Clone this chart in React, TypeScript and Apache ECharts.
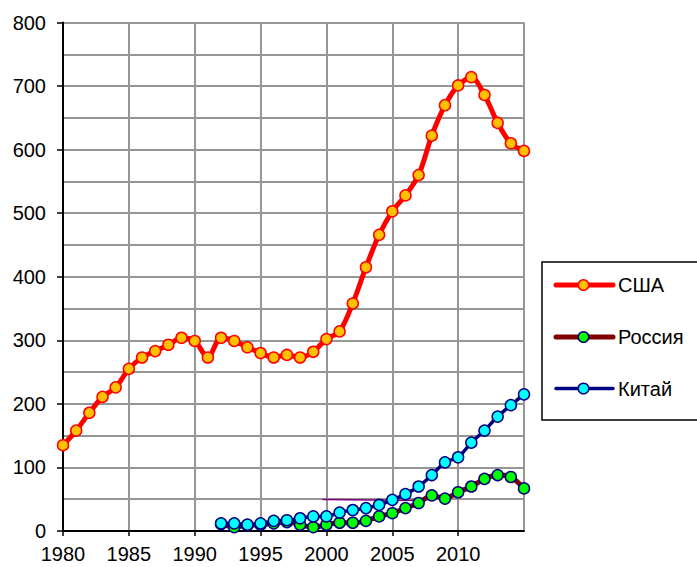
import React, { useEffect, useRef } from "react";
import * as echarts from "echarts";

const years = [
  1980, 1981, 1982, 1983, 1984, 1985, 1986, 1987, 1988, 1989, 1990, 1991,
  1992, 1993, 1994, 1995, 1996, 1997, 1998, 1999, 2000, 2001, 2002, 2003,
  2004, 2005, 2006, 2007, 2008, 2009, 2010, 2011, 2012, 2013, 2014, 2015,
];

const usa = [
  135, 158, 186, 211, 226, 255, 273, 283, 293, 304, 299, 273,
  304, 299, 289, 280, 273, 277, 273, 282, 302, 314, 358, 415,
  466, 503, 528, 560, 622, 670, 701, 714, 686, 642, 610, 598,
];

const chinaYears = [
  1992, 1993, 1994, 1995, 1996, 1997, 1998, 1999, 2000, 2001, 2002, 2003,
  2004, 2005, 2006, 2007, 2008, 2009, 2010, 2011, 2012, 2013, 2014, 2015,
];
const china = [
  12, 12, 10, 12, 16, 17, 20, 23, 23, 29, 33, 36,
  41, 49, 58, 70, 88, 108, 116, 139, 158, 180, 198, 215,
];
const russia = [
  11, 6, 9, 10, 12, 14, 10, 6, 10, 13, 13, 16,
  23, 28, 36, 44, 56, 51, 61, 70, 82, 88, 85, 67,
];

const extraLine = [
  [1999.7, 49.5],
  [2007.3, 48],
];

const legendNames = ["США", "Россия", "Китай"];

const FONT = "'Liberation Sans', Arial, sans-serif";

const styles = {
  "США": { line: "#ff0000", lw: 5, fill: "#ffc000", border: "#ff0000" },
  "Россия": { line: "#800000", lw: 5, fill: "#00ff00", border: "#000080" },
  "Китай": { line: "#000080", lw: 3.5, fill: "#00ffff", border: "#000080" },
} as Record<string, { line: string; lw: number; fill: string; border: string }>;

export default function App() {
  const ref = useRef<HTMLDivElement>(null);

  useEffect(() => {
    if (!ref.current) return;
    const chart = echarts.init(ref.current, undefined, { renderer: "svg" });
    const gridColor = "#969696";

    const legendItems: any[] = [];
    const rowY = [285, 337, 388.5];
    legendNames.forEach((name, i) => {
      const s = styles[name];
      const y = rowY[i];
      legendItems.push(
        {
          type: "line",
          shape: { x1: 556, y1: y, x2: 613, y2: y },
          style: { stroke: s.line, lineWidth: s.lw, lineCap: "round" },
          z: 10,
        },
        {
          type: "circle",
          shape: { cx: 583.5, cy: y, r: 5.3 },
          style: { fill: s.fill, stroke: s.border, lineWidth: 1.5 },
          z: 11,
        },
        {
          type: "text",
          x: 618,
          y: y,
          style: {
            text: name,
            font: `20px ${FONT}`,
            fill: "#000",
            textVerticalAlign: "middle",
            verticalAlign: "middle",
          },
          z: 11,
        }
      );
    });

    chart.setOption({
      animation: false,
      backgroundColor: "#ffffff",
      textStyle: { fontFamily: FONT },
      grid: {
        left: 63,
        right: 173,
        top: 22.5,
        bottom: 36,
        containLabel: false,
        outerBoundsMode: "none",
      },
      xAxis: {
        type: "value",
        min: 1980,
        max: 2015,
        interval: 5,
        axisLine: { show: true, onZero: false, lineStyle: { color: "#000", width: 2 } },
        axisTick: { show: true, length: 5, lineStyle: { color: "#000", width: 1.5 } },
        axisLabel: {
          color: "#000",
          fontSize: 20,
          fontFamily: FONT,
          margin: 13,
          showMaxLabel: false,
          formatter: (v: number) => (v >= 2015 ? "" : String(v)),
        },
        splitLine: { show: true, lineStyle: { color: gridColor, width: 2 } },
      },
      yAxis: {
        type: "value",
        min: 0,
        max: 800,
        interval: 100,
        axisLine: { show: true, lineStyle: { color: "#000", width: 2 } },
        axisTick: { show: true, length: 6, lineStyle: { color: "#000", width: 1.5 } },
        axisLabel: { color: "#000", fontSize: 20, fontFamily: FONT, margin: 17 },
        splitLine: { show: true, lineStyle: { color: gridColor, width: 2 } },
        minorTick: { show: false, splitNumber: 2 },
        minorSplitLine: { show: true, lineStyle: { color: gridColor, width: 2 } },
      },
      graphic: [
        {
          type: "rect",
          z: 5,
          shape: { x: 542, y: 262, width: 170, height: 158 },
          style: { fill: "#fff", stroke: "#000", lineWidth: 1.5 },
        },
        ...legendItems,
      ],
      series: [
        {
          name: "extra",
          type: "line",
          data: extraLine,
          symbol: "none",
          lineStyle: { color: "#800080", width: 1.5 },
          z: 1,
        },
        {
          name: "Россия",
          type: "line",
          data: chinaYears.map((y, i) => [y, russia[i]]),
          smooth: 0.3,
          symbol: "circle",
          symbolSize: 11,
          lineStyle: { color: "#800000", width: 5 },
          itemStyle: { color: "#00ff00", borderColor: "#000080", borderWidth: 1.5 },
          z: 2,
        },
        {
          name: "Китай",
          type: "line",
          data: chinaYears.map((y, i) => [y, china[i]]),
          smooth: 0.3,
          symbol: "circle",
          symbolSize: 11,
          lineStyle: { color: "#000080", width: 3.5 },
          itemStyle: { color: "#00ffff", borderColor: "#000080", borderWidth: 1.5 },
          z: 3,
        },
        {
          name: "США",
          type: "line",
          data: years.map((y, i) => [y, usa[i]]),
          smooth: 0.3,
          symbol: "circle",
          symbolSize: 11,
          lineStyle: { color: "#ff0000", width: 5 },
          itemStyle: { color: "#ffc000", borderColor: "#ff0000", borderWidth: 1.5 },
          z: 4,
        },
      ],
    });
    return () => chart.dispose();
  }, []);

  return (
    <div
      ref={ref}
      style={{ position: "fixed", left: 0, top: 0, width: 697, height: 567 }}
    />
  );
}
